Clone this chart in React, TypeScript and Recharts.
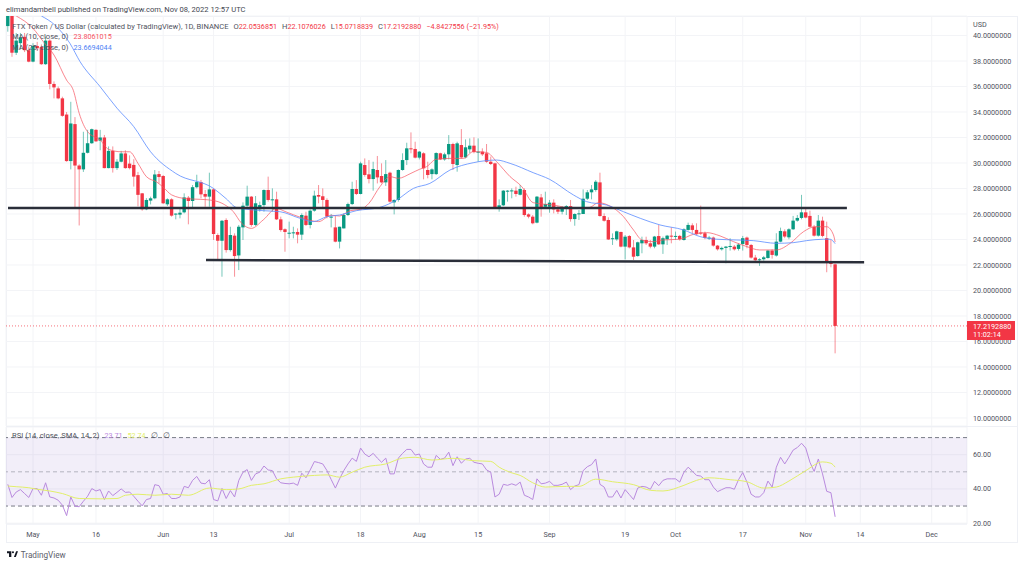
import { ComposedChart, Bar, Line, XAxis, YAxis, CartesianGrid, ReferenceLine, ReferenceArea } from 'recharts';

const FONT = 'Roboto, sans-serif';
const UP = '#089981';
const DOWN = '#f23645';
const AXIS_TEXT = '#50535e';

// day 0 is May 1 2022, one row of ten candles per line
const opens = [
  40.74, 42.0, 38.65, 39.4, 39.9, 38.85, 37.95, 39.18, 39.1, 37.75,
  39.6, 36.2, 35.85, 35.07, 33.8, 30.15, 33.05, 29.8, 29.5, 30.8,
  31.55, 32.6, 31.75, 32.0, 29.6, 30.95, 29.6, 30.1, 30.75, 29.95,
  29.85, 29.05, 27.62, 26.37, 27.05, 27.23, 29.13, 28.98, 26.76, 27.15,
  25.97, 25.95, 26.13, 27.28, 27.02, 28.1, 28.5, 27.57, 27.36, 27.93,
  24.35, 23.9, 25.53, 23.17, 24.3, 22.75, 24.95, 26.65, 27.36, 25.14,
  26.37, 26.7, 27.88, 27.1, 27.15, 25.58, 24.8, 24.48, 24.53, 24.59,
  24.38, 25.87, 25.14, 26.26, 27.49, 27.39, 27.1, 25.75, 24.95, 23.83,
  24.87, 25.92, 26.78, 27.96, 27.57, 29.84, 29.11, 28.74, 29.45, 28.98,
  28.48, 29.24, 26.91, 27.1, 29.45, 30.23, 31.15, 31.1, 30.42, 30.76,
  29.45, 29.13, 29.13, 30.76, 30.28, 30.68, 31.49, 29.84, 31.41, 30.44,
  31.07, 31.36, 30.86, 30.89, 30.76, 30.1, 29.97, 26.47, 26.68, 27.75,
  27.8, 27.83, 27.51, 27.88, 25.97, 25.79, 25.32, 27.3, 26.57, 26.57,
  26.89, 26.36, 26.18, 26.44, 26.62, 25.6, 26.0, 26.0, 27.2, 27.7,
  27.88, 28.48, 25.84, 25.53, 24.05, 24.01, 24.59, 23.44, 24.27, 23.38,
  22.7, 23.7, 23.96, 23.7, 23.44, 24.27, 23.62, 24.02, 24.3, 24.23,
  24.28, 23.96, 24.75, 25.11, 24.75, 24.54, 24.49, 24.12, 24.15, 23.52,
  23.23, 23.34, 23.44, 23.44, 23.26, 23.65, 24.15, 23.57, 22.58, 22.4,
  22.45, 22.55, 23.13, 22.74, 23.83, 24.64, 24.17, 24.8, 25.48, 25.69,
  26.13, 25.85, 25.0, 24.3, 25.48, 24.1, 22.21, 22.05,
];

const highs = [
  42.6, 42.3, 40.2, 40.2, 40.2, 39.1, 39.4, 39.5, 39.3, 39.9,
  39.7, 36.4, 36.0, 35.2, 34.0, 34.8, 33.6, 29.9, 32.45, 32.6,
  32.7, 32.65, 32.6, 32.2, 31.3, 31.3, 30.3, 30.95, 31.0, 30.6,
  30.3, 29.3, 27.65, 27.25, 27.36, 29.45, 29.37, 29.05, 27.23, 27.23,
  26.05, 26.52, 27.62, 27.41, 28.27, 29.08, 28.67, 27.88, 29.24, 28.01,
  24.48, 25.53, 25.66, 25.0, 24.48, 25.14, 26.91, 28.22, 27.41, 27.41,
  26.97, 27.93, 28.93, 28.01, 27.75, 25.79, 24.87, 25.4, 25.0, 24.87,
  26.05, 26.18, 26.36, 27.83, 28.27, 28.01, 27.23, 26.0, 25.84, 25.0,
  26.05, 26.89, 28.53, 28.66, 30.1, 30.36, 30.23, 30.1, 30.55, 29.97,
  30.23, 29.32, 27.15, 29.5, 30.76, 31.59, 32.4, 31.67, 30.94, 30.84,
  30.1, 29.58, 30.84, 30.81, 30.81, 32.19, 31.59, 31.67, 32.66, 31.85,
  31.93, 32.01, 31.93, 31.15, 31.49, 30.5, 30.02, 27.15, 27.88, 27.88,
  28.01, 28.14, 28.27, 28.01, 26.05, 25.92, 27.41, 27.57, 27.75, 27.1,
  27.15, 26.62, 26.62, 26.7, 27.1, 26.05, 26.31, 27.93, 27.88, 28.27,
  28.66, 29.24, 26.05, 25.74, 24.48, 24.69, 24.61, 24.35, 24.35, 23.96,
  23.83, 24.22, 24.22, 23.96, 24.28, 25.14, 24.23, 24.36, 24.96, 24.62,
  24.36, 24.88, 25.32, 25.27, 25.27, 26.66, 24.62, 24.28, 24.23, 23.57,
  23.44, 23.49, 24.1, 23.57, 23.7, 24.28, 24.23, 23.65, 22.79, 22.53,
  22.71, 23.18, 23.23, 24.49, 24.93, 24.8, 24.88, 25.85, 25.92, 27.5,
  26.4, 26.26, 25.14, 25.92, 25.79, 25.4, 23.96, 22.11,
];

const lows = [
  40.3, 38.33, 38.47, 38.9, 38.7, 37.9, 37.9, 38.8, 37.7, 37.7,
  35.78, 35.07, 35.0, 33.63, 30.1, 29.5, 26.44, 25.1, 29.3, 30.75,
  31.5, 31.65, 31.0, 29.58, 29.58, 29.25, 29.45, 30.05, 29.55, 29.5,
  28.15, 26.6, 26.26, 26.3, 26.75, 27.15, 28.4, 26.78, 26.63, 25.79,
  25.58, 25.66, 26.05, 25.19, 26.5, 28.01, 27.23, 26.57, 26.57, 23.96,
  22.34, 21.08, 22.97, 23.05, 21.08, 21.6, 23.96, 26.57, 25.0, 25.06,
  26.18, 26.18, 26.97, 26.18, 25.53, 24.61, 23.04, 24.09, 24.09, 23.7,
  23.96, 25.06, 24.87, 26.18, 26.84, 26.44, 25.66, 24.95, 23.78, 23.3,
  24.87, 25.84, 26.7, 27.49, 27.54, 28.93, 28.4, 27.83, 28.4, 28.4,
  28.2, 26.89, 25.97, 26.97, 29.4, 29.84, 30.76, 30.36, 30.28, 28.72,
  28.8, 28.72, 29.06, 30.23, 30.18, 30.28, 29.45, 29.32, 30.36, 30.36,
  30.76, 30.76, 30.1, 30.55, 30.02, 29.84, 26.44, 26.18, 26.62, 26.97,
  27.23, 27.36, 27.46, 25.79, 25.66, 25.19, 25.27, 25.79, 26.44, 26.1,
  26.05, 26.0, 25.97, 25.92, 25.4, 25.08, 25.53, 26.0, 27.1, 27.15,
  27.75, 25.79, 25.4, 23.96, 23.57, 23.9, 23.38, 22.44, 23.3, 22.39,
  22.65, 22.92, 23.57, 23.31, 23.31, 23.57, 22.87, 23.57, 23.7, 23.96,
  23.91, 23.91, 24.7, 24.49, 24.36, 24.36, 24.02, 23.96, 23.44, 23.13,
  23.13, 22.13, 23.13, 23.13, 23.13, 23.13, 23.31, 22.5, 22.26, 21.93,
  22.34, 22.5, 22.5, 22.66, 23.78, 24.1, 24.02, 24.75, 25.4, 25.58,
  25.66, 24.96, 24.23, 24.23, 24.17, 21.43, 21.82, 15.07,
];

const closes = [
  42.0, 38.65, 39.6, 39.85, 38.85, 37.95, 39.18, 39.0, 37.75, 39.6,
  36.2, 35.93, 35.07, 33.7, 30.15, 33.1, 29.8, 29.5, 30.8, 31.55,
  32.65, 31.7, 32.0, 29.6, 30.95, 29.6, 30.1, 30.75, 29.6, 29.6,
  28.93, 27.5, 26.37, 27.1, 27.23, 29.1, 28.9, 26.84, 27.15, 25.87,
  26.03, 26.1, 27.3, 27.02, 28.1, 28.5, 27.54, 27.36, 27.93, 24.43,
  23.9, 25.47, 23.17, 24.35, 22.7, 25.0, 26.65, 27.36, 25.14, 26.84,
  26.7, 27.88, 27.1, 27.15, 25.58, 24.74, 24.59, 24.53, 24.56, 24.38,
  25.92, 25.14, 26.26, 27.44, 27.36, 27.1, 25.79, 25.79, 23.83, 25.0,
  25.92, 26.78, 27.96, 27.57, 29.97, 29.06, 28.74, 29.53, 28.87, 28.48,
  29.13, 26.97, 27.1, 29.45, 30.23, 31.15, 31.07, 30.42, 30.89, 29.58,
  29.06, 29.5, 30.78, 30.28, 30.68, 31.49, 29.92, 31.54, 30.44, 31.23,
  31.36, 30.86, 30.89, 30.68, 30.1, 29.92, 26.47, 26.68, 27.83, 27.83,
  27.85, 27.57, 27.96, 25.92, 25.79, 25.27, 27.36, 26.44, 26.78, 26.89,
  26.36, 26.18, 26.44, 26.62, 25.6, 26.0, 26.05, 27.2, 27.7, 27.93,
  28.53, 25.84, 25.47, 24.0, 24.1, 24.64, 23.44, 24.22, 23.38, 22.65,
  23.78, 23.96, 23.7, 23.44, 24.23, 23.62, 24.1, 24.3, 24.23, 24.28,
  24.02, 24.8, 25.14, 24.75, 24.41, 24.49, 24.12, 24.15, 23.52, 23.23,
  23.34, 23.44, 23.49, 23.23, 23.6, 24.1, 23.57, 22.58, 22.37, 22.45,
  22.6, 23.13, 22.79, 23.83, 24.67, 24.23, 24.8, 25.48, 25.69, 26.13,
  25.72, 25.0, 24.3, 25.48, 24.28, 22.21, 22.08, 17.22,
];

const rsi = [
  42.7, 35.0, 38.2, 39.6, 37.3, 35.0, 40.2, 40.2, 36.3, 43.6,
  35.3, 34.7, 33.4, 30.5, 24.4, 35.3, 29.9, 29.6, 32.8, 35.7,
  40.2, 38.8, 39.6, 33.8, 38.8, 36.1, 38.0, 40.0, 38.0, 38.2,
  35.7, 32.8, 30.1, 33.8, 34.4, 42.5, 41.9, 36.9, 37.3, 34.4,
  34.4, 35.3, 41.5, 40.7, 45.0, 47.3, 43.4, 43.0, 45.4, 33.8,
  33.0, 40.3, 34.4, 39.0, 35.3, 45.0, 49.8, 51.3, 45.0, 48.8,
  49.8, 53.4, 51.1, 50.7, 45.9, 43.6, 43.2, 43.0, 43.4, 42.1,
  49.2, 46.5, 51.1, 56.0, 55.4, 54.6, 50.7, 45.5, 40.5, 45.9,
  50.7, 54.6, 58.0, 56.1, 63.9, 60.4, 58.8, 60.8, 58.0, 55.6,
  58.0, 48.8, 48.8, 58.0, 60.8, 63.1, 63.1, 59.8, 60.4, 54.6,
  52.7, 52.7, 59.6, 57.3, 58.0, 61.5, 53.6, 58.8, 55.0, 57.5,
  57.9, 55.6, 55.0, 54.6, 51.1, 49.8, 35.3, 36.9, 42.7, 42.1,
  43.0, 42.1, 44.0, 36.3, 35.3, 33.8, 45.9, 43.0, 43.4, 44.4,
  42.1, 42.1, 42.7, 44.0, 39.6, 41.7, 42.5, 50.7, 53.0, 54.2,
  57.5, 42.7, 41.1, 35.3, 35.3, 39.2, 34.7, 39.6, 36.7, 33.8,
  40.5, 41.5, 41.1, 39.8, 44.4, 41.9, 45.0, 45.9, 45.9, 45.9,
  44.0, 49.8, 52.7, 50.4, 47.9, 47.5, 45.4, 45.4, 41.1, 38.4,
  39.6, 40.7, 40.7, 39.8, 45.4, 49.6, 44.0, 36.9, 35.3, 35.3,
  37.8, 44.6, 41.1, 52.7, 58.5, 54.6, 58.5, 62.7, 64.2, 66.7,
  63.9, 55.6, 50.2, 57.5, 48.8, 38.6, 37.8, 23.7,
];

const ma10Days = [-4, 0, 2.5, 5, 8, 9.6, 11, 13, 16, 18, 21, 23, 25, 27, 29.5, 31, 33, 36.6, 39.8, 42, 45, 47.7, 49.6, 52, 54.8, 58, 60, 64, 68, 71, 73, 75.5, 78, 80, 82.6, 85, 87, 90, 92, 93.7, 96, 99.3, 102.5, 104.8, 108, 110.4, 113.6, 116.4, 119.1, 123.9, 128.7, 132.6, 134.6, 137.4, 140.6, 143, 145, 147.7, 150, 154, 157.3, 160.4, 163.6, 166.8, 170, 173, 177, 180.3, 183.5, 186.2, 189, 190.6, 191];
const ma10Values = [41.53, 40.56, 39.5, 38.47, 36.5, 35.7, 33.9, 32.45, 31.8, 31.07, 30.88, 30.88, 29.97, 28.93, 28.5, 28.1, 27.5, 27.2, 27.15, 27.1, 26.84, 26.18, 25.3, 24.87, 25.53, 26.44, 26.2, 25.7, 25.4, 25.9, 25.84, 26.26, 26.36, 26.84, 28.14, 28.93, 28.8, 29.19, 29.5, 29.71, 30.29, 30.36, 30.36, 30.89, 30.83, 30.1, 28.93, 28.14, 26.89, 26.7, 26.44, 26.52, 26.89, 26.62, 25.79, 24.74, 23.96, 23.83, 23.96, 24.02, 24.41, 24.54, 24.28, 23.83, 23.44, 23.18, 23.18, 23.7, 24.62, 25.0, 25.0, 24.36, 23.8];

const ma25Days = [2, 5.2, 8.8, 11.2, 16, 20, 24, 28, 34, 43, 46, 48.5, 54.8, 58.8, 63.6, 66.7, 70, 73, 77, 82.6, 86.6, 90.6, 94.5, 99.3, 104.8, 110.4, 113.6, 119.1, 123, 128.7, 131.8, 136.6, 140.6, 144.6, 149.3, 154.9, 158.8, 162.8, 167.6, 171.5, 177, 181, 184.2, 188.2, 189.8, 191];
const ma25Values = [41.53, 40.82, 39.38, 37.95, 35.98, 34.3, 32.85, 30.88, 29.18, 28.0, 27.2, 26.5, 26.26, 26.18, 25.66, 25.4, 25.79, 25.92, 26.26, 26.52, 27.1, 28.01, 28.4, 29.45, 30.02, 30.23, 29.97, 29.24, 28.72, 27.49, 26.97, 26.7, 26.18, 25.66, 25.14, 24.75, 24.23, 24.02, 23.96, 23.91, 23.7, 23.75, 23.91, 24.02, 24.02, 23.67];

const rsiMaDays = [-6, -4, -1, 1, 4, 7, 11, 16, 20, 22, 25, 29, 33, 37, 42, 46, 49, 52, 55, 59, 62, 67, 70, 73, 76, 79, 84, 88, 91, 95, 100, 105, 109, 111, 114, 116, 119, 122, 127, 130, 134, 138, 143, 147, 150, 155, 158, 161, 166, 170, 174, 177, 180, 184, 188, 190, 191];
const rsiMaValues = [41.7, 41.3, 40.7, 39.8, 38.8, 37.3, 34.4, 34.2, 34.4, 36.3, 36.9, 36.3, 36.9, 36.3, 40.5, 39.6, 40.0, 42.1, 43.0, 45.9, 46.9, 47.9, 48.2, 46.9, 49.8, 52.7, 54.6, 58.0, 58.5, 56.9, 57.9, 56.5, 56.1, 52.7, 49.4, 47.9, 43.6, 41.1, 41.5, 41.5, 45.7, 44.2, 42.5, 39.2, 38.8, 42.1, 45.0, 46.5, 45.4, 44.2, 40.5, 41.1, 44.6, 50.7, 55.8, 55.0, 52.74];

const priceTicks = [10, 12, 14, 16, 18, 20, 22, 24, 26, 28, 30, 32, 34, 36, 38, 40];
const rsiTicks = [20, 40, 60];
const timeTicks = [0, 15, 31, 43, 61, 78, 92, 106, 123, 141, 153, 169, 184, 197, 214];
const timeLabels = ['May', '16', 'Jun', '13', 'Jul', '18', 'Aug', '15', 'Sep', '19', 'Oct', '17', 'Nov', '14', 'Dec'];

const dayDomain = [-6.43, 222.4];
const lastClose = 17.2192880;

// the two hand drawn support / resistance lines
const resistance = [{ x: -5.95, y: 26.47 }, { x: 193.8, y: 26.47 }];
const support = [{ x: 41.2, y: 22.39 }, { x: 197.9, y: 22.21 }];

const candles = opens.map((open, i) => ({
  day: i - 6,
  open,
  high: highs[i],
  low: lows[i],
  close: closes[i],
  rsi: rsi[i],
}));
const ma10 = ma10Days.map((day, i) => ({ day, value: ma10Values[i] }));
const ma25 = ma25Days.map((day, i) => ({ day, value: ma25Values[i] }));
const rsiMa = rsiMaDays.map((day, i) => ({ day, value: rsiMaValues[i] }));

function Candle(props: any) {
  const { x, y, width, height, payload } = props;
  const h = Math.abs(height);
  const perUnit = h / (payload.high - payload.low || 1);
  const top = y + (payload.high - Math.max(payload.open, payload.close)) * perUnit;
  const bodyH = Math.max(Math.abs(payload.close - payload.open) * perUnit, 1);
  const color = payload.close >= payload.open ? UP : DOWN;
  const cx = x + width / 2;
  return (
    <g>
      <rect x={cx - 0.5} y={y} width={1} height={h} fill={color} fillOpacity={0.55} />
      <rect x={cx - 1.7} y={top} width={3.4} height={bodyH} fill={color} />
    </g>
  );
}

const labelStyle: React.CSSProperties = {
  position: 'absolute',
  fontFamily: FONT,
  fontSize: 7.6,
  lineHeight: '10px',
  whiteSpace: 'pre',
  color: '#50535e',
};

function Val({ c, children }: any) {
  return <span style={{ color: c, fontSize: 7.2 }}>{children}</span>;
}

function Gap({ children }: any) {
  return <span style={{ marginLeft: 5 }}>{children}</span>;
}

export default function App() {
  return (
    <div style={{ position: 'absolute', left: 0, top: 0, width: 1024, height: 565, background: '#fff', overflow: 'hidden' }}>
      <div style={{ ...labelStyle, left: 6, top: 5, color: '#434651' }}>
        elimandambell published on TradingView.com, Nov 08, 2022 12:57 UTC
      </div>

      {/* frame */}
      <div style={{ position: 'absolute', left: 6, top: 16, width: 1010, height: 525, border: '1px solid #eef0f5' }} />

      <div style={{ position: 'absolute', left: 0, top: 0 }}>
        <ComposedChart width={1018} height={426} data={candles} margin={{ top: 16, right: 0, bottom: 0, left: 6 }}>
          <CartesianGrid stroke="#f3f4f7" strokeWidth={1} />
          <XAxis type="number" dataKey="day" domain={dayDomain} ticks={timeTicks} allowDataOverflow hide />
          <YAxis
            orientation="right"
            width={51}
            domain={[9.37, 41.53]}
            allowDataOverflow
            ticks={priceTicks}
            interval={0}
            tickFormatter={(v: number) => v.toFixed(7)}
            axisLine={false}
            tickLine={false}
            tickMargin={0}
            tick={{ fontSize: 7.2, fontFamily: FONT, fill: AXIS_TEXT }}
          />
          <Bar dataKey={(d: any) => [d.low, d.high]} barSize={4} shape={Candle} isAnimationActive={false} />
          <Line data={ma10} dataKey="value" type="monotone" stroke="#f7525f" strokeOpacity={0.7} strokeWidth={1} dot={false} isAnimationActive={false} />
          <Line data={ma25} dataKey="value" type="monotone" stroke="#5b8cff" strokeOpacity={0.8} strokeWidth={1} dot={false} isAnimationActive={false} />
          <ReferenceLine y={lastClose} stroke={DOWN} strokeOpacity={0.7} strokeDasharray="1 2" />
          <ReferenceLine segment={resistance} stroke="#2a2e39" strokeWidth={2.4} ifOverflow="visible" />
          <ReferenceLine segment={support} stroke="#2a2e39" strokeWidth={2.4} ifOverflow="visible" />
        </ComposedChart>
      </div>

      <div style={{ position: 'absolute', left: 6, top: 426, width: 1011, height: 1, background: '#eef0f5' }} />

      <div style={{ position: 'absolute', left: 0, top: 427 }}>
        <ComposedChart width={1018} height={115} data={candles} margin={{ top: 0, right: 0, bottom: 0, left: 6 }}>
          <CartesianGrid stroke="#f3f4f7" strokeWidth={1} />
          <XAxis
            type="number"
            dataKey="day"
            domain={dayDomain}
            allowDataOverflow
            ticks={timeTicks}
            interval={0}
            height={18}
            tickFormatter={(v: number) => timeLabels[timeTicks.indexOf(v)]}
            axisLine={{ stroke: '#eef0f5' }}
            tickLine={false}
            tickMargin={2}
            tick={{ fontSize: 7.2, fontFamily: FONT, fill: AXIS_TEXT }}
          />
          <YAxis
            orientation="right"
            width={51}
            domain={[19.5, 76.2]}
            allowDataOverflow
            ticks={rsiTicks}
            interval={0}
            tickFormatter={(v: number) => v.toFixed(2)}
            axisLine={false}
            tickLine={false}
            tickMargin={0}
            tick={{ fontSize: 7.2, fontFamily: FONT, fill: AXIS_TEXT }}
          />
          <ReferenceArea y1={30} y2={70} fill="#7e57c2" fillOpacity={0.1} stroke="none" />
          <ReferenceLine y={70} stroke="#787b86" strokeDasharray="4 3" />
          <ReferenceLine y={50} stroke="#787b86" strokeOpacity={0.5} strokeDasharray="4 3" />
          <ReferenceLine y={30} stroke="#787b86" strokeDasharray="4 3" />
          <Line dataKey="rsi" type="linear" stroke="#b98ade" strokeWidth={1} dot={false} isAnimationActive={false} />
          <Line data={rsiMa} dataKey="value" type="monotone" stroke="#e2ee6a" strokeWidth={1} dot={false} isAnimationActive={false} />
        </ComposedChart>
      </div>

      {/* legend */}
      <div style={{ ...labelStyle, left: 12, top: 21.7 }}>
        {'FTX Token / US Dollar (calculated by TradingView), 1D, BINANCE'}
        <Gap>O</Gap><Val c={DOWN}>22.0536851</Val>
        <Gap>H</Gap><Val c={DOWN}>22.1076026</Val>
        <Gap>L</Gap><Val c={DOWN}>15.0718839</Val>
        <Gap>C</Gap><Val c={DOWN}>17.2192880</Val>
        <Gap><Val c={DOWN}>−4.8427556 (−21.95%)</Val></Gap>
      </div>
      <div style={{ ...labelStyle, left: 12, top: 32.3 }}>
        {'MA (10, close, 0)'}<Gap><Val c="#f7525f">23.8061015</Val></Gap>
      </div>
      <div style={{ ...labelStyle, left: 12, top: 43 }}>
        {'MA (25, close, 0)'}<Gap><Val c="#4f83f5">23.6694044</Val></Gap>
      </div>
      <div style={{ ...labelStyle, left: 12, top: 431 }}>
        {'RSI (14, close, SMA, 14, 2)'}<Gap><Val c="#b98ade">23.71</Val></Gap><Gap><Val c="#e2ee6a">52.74</Val></Gap><Gap>∅</Gap><Gap>∅</Gap>
      </div>
      <div style={{ ...labelStyle, left: 973, top: 20, fontSize: 7.2 }}>USD</div>

      {/* last price tag */}
      <div style={{ position: 'absolute', left: 967, top: 321, width: 48, height: 19, background: DOWN, color: '#fff', fontFamily: FONT, fontSize: 7.2, lineHeight: '8.7px', padding: '1.5px 0 0 6px', boxSizing: 'border-box' }}>
        17.2192880<br />11:02:14
      </div>

      {/* logo */}
      <svg style={{ position: 'absolute', left: 6.7, top: 550.7 }} width={11} height={6.6} viewBox="0 0 14 8">
        <path d="M0 0h5.5v7.5H2.6V2.6H0z M8.8 7.5 11.6 0H14l-2.8 7.5z" fill="#131722" />
        <circle cx="7.6" cy="1.4" r="1.3" fill="#131722" />
      </svg>
      <div style={{ ...labelStyle, left: 20.7, top: 549.5, fontSize: 8.2, color: '#5d606b' }}>TradingView</div>
    </div>
  );
}
